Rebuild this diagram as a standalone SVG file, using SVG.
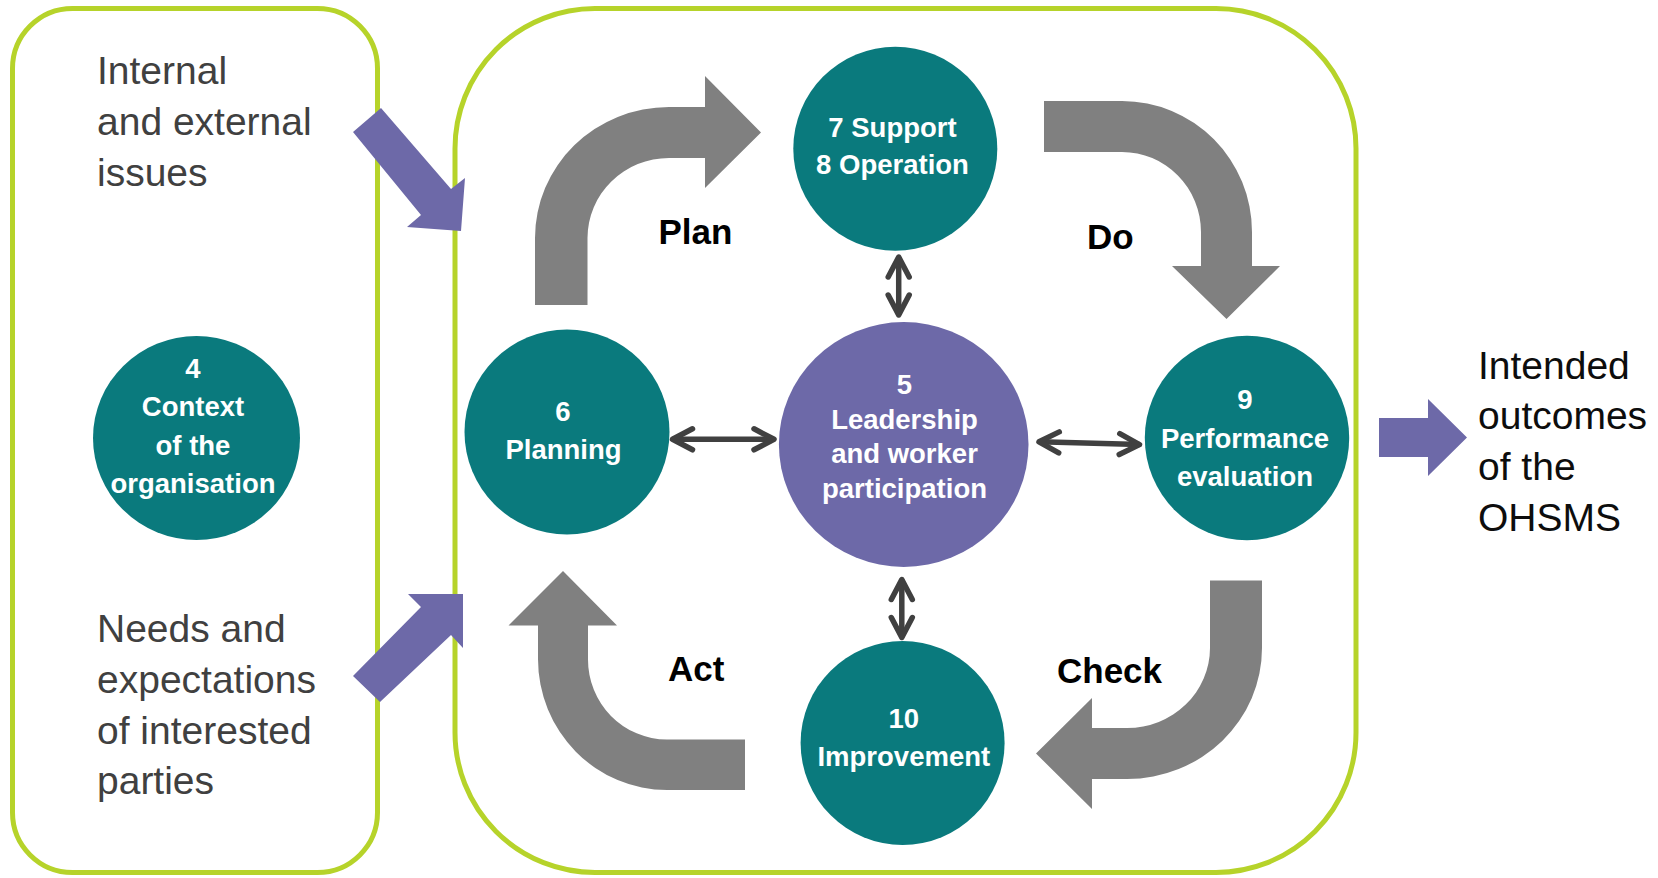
<svg xmlns="http://www.w3.org/2000/svg" width="1658" height="878" viewBox="0 0 1658 878">
  <style>
    .frame { fill: none; stroke: #b6d32a; stroke-width: 5; }
    .teal { fill: #0a7a7d; }
    .purple { fill: #6d69a8; }
    .cycle { fill: #808080; }
    .flow { fill: #6d69a8; }
    .dbl { fill: none; stroke: #404040; stroke-width: 5.5; stroke-linecap: butt; }
    .ntext { font-family: "Liberation Sans", Arial, sans-serif; font-weight: bold; font-size: 27.5px; fill: #ffffff; text-anchor: middle; }
    .side { font-family: "Liberation Sans", Arial, sans-serif; font-size: 39px; fill: #404040; }
    .out { font-family: "Liberation Sans", Arial, sans-serif; font-size: 39px; fill: #0d0d0d; }
    .lbl { font-family: "Liberation Sans", Arial, sans-serif; font-weight: bold; font-size: 35px; fill: #000000; }
  </style>
  <defs>
    <marker id="chev" viewBox="-30 -16 36 32" refX="0" refY="0" markerWidth="36" markerHeight="32" markerUnits="userSpaceOnUse" orient="auto-start-reverse">
      <path d="M -20 -10.5 L 0 0 L -20 10.5" fill="none" stroke="#404040" stroke-width="5.5" stroke-linecap="round" stroke-linejoin="round"/>
    </marker>
  </defs>
  <rect width="1658" height="878" fill="#ffffff"/>

  <g id="frames">
    <rect id="frame-context" class="frame" x="12.5" y="8.5" width="365" height="864" rx="60" ry="60"/>
    <rect id="frame-ohsms" class="frame" x="455" y="8.5" width="901" height="864" rx="140" ry="140"/>
  </g>

  <g id="connectors">
    <polygon id="arrow-issues" class="flow" points="381,108 451,189 465,178 461,231 407,227 421,215 353,132"/>
    <polygon id="arrow-needs" class="flow" points="353,676 421,607 408,594 463,594 463,648 451,635 380,702"/>
    <polygon id="arrow-outcomes" class="flow" points="1379,418 1428,418 1428,399 1467,437.5 1428,476 1428,457 1379,457"/>

    <path id="arrow-plan" class="cycle" d="M 535 305 L 535 238 A 134 131 0 0 1 669 107 L 705 107 L 705 76 L 761 132.5 L 705 188 L 705 158 L 669 158 A 81.5 80 0 0 0 587.5 238 L 587.5 305 Z"/>
    <path id="arrow-do" class="cycle" d="M 1044 101 L 1122 101 A 130 131 0 0 1 1252 232 L 1252 266 L 1280 266 L 1226.5 319 L 1172 266 L 1201 266 L 1201 232 A 79 80 0 0 0 1122 152 L 1044 152 Z"/>
    <path id="arrow-check" class="cycle" d="M 1210 580.5 L 1262 580.5 L 1262 648 A 135 131 0 0 1 1127 779 L 1092 779 L 1092 809 L 1036 753.5 L 1092 698 L 1092 728 L 1127 728 A 83 80 0 0 0 1210 648 Z"/>
    <path id="arrow-act" class="cycle" d="M 745 739.5 L 667 739.5 A 79 80 0 0 1 588 659 L 588 625.5 L 617 625.5 L 563 571 L 508.5 625.5 L 538 625.5 L 538 659 A 129 131 0 0 0 667 790 L 745 790 Z"/>

    <line id="link-support-leadership" class="dbl" x1="898.7" y1="257" x2="898.7" y2="315" marker-start="url(#chev)" marker-end="url(#chev)"/>
    <line id="link-leadership-improvement" class="dbl" x1="901.8" y1="579.5" x2="901.8" y2="637.5" marker-start="url(#chev)" marker-end="url(#chev)"/>
    <line id="link-planning-leadership" class="dbl" x1="672.5" y1="439.3" x2="774" y2="439.3" marker-start="url(#chev)" marker-end="url(#chev)"/>
    <line id="link-leadership-performance" class="dbl" x1="1039" y1="441.8" x2="1139.5" y2="444.6" marker-start="url(#chev)" marker-end="url(#chev)"/>

    <text class="lbl" x="658.5" y="244">Plan</text>
    <text class="lbl" x="1087" y="249">Do</text>
    <text class="lbl" x="1057" y="682.5">Check</text>
    <text class="lbl" x="668" y="681">Act</text>
  </g>

  <g id="node-issues">
    <text class="side" x="97" y="83.5">Internal</text>
    <text class="side" x="97" y="135">and external</text>
    <text class="side" x="97" y="185.5">issues</text>
  </g>

  <g id="node-needs">
    <text class="side" x="97" y="642">Needs and</text>
    <text class="side" x="97" y="692.5">expectations</text>
    <text class="side" x="97" y="743.5">of interested</text>
    <text class="side" x="97" y="794">parties</text>
  </g>

  <g id="node-outcomes">
    <text class="out" x="1478" y="378.5">Intended</text>
    <text class="out" x="1478" y="428.5">outcomes</text>
    <text class="out" x="1478" y="479.5">of the</text>
    <text class="out" x="1478" y="530.5">OHSMS</text>
  </g>

  <g id="node-context">
    <ellipse class="teal" cx="196.5" cy="438" rx="103.5" ry="102"/>
    <text class="ntext" x="193" y="377.5">4</text>
    <text class="ntext" x="193" y="416">Context</text>
    <text class="ntext" x="193" y="454.5">of the</text>
    <text class="ntext" x="193" y="492.5">organisation</text>
  </g>

  <g id="node-planning">
    <circle class="teal" cx="567" cy="432" r="102.5"/>
    <text class="ntext" x="563" y="420.5">6</text>
    <text class="ntext" x="563.5" y="458.5">Planning</text>
  </g>

  <g id="node-support">
    <circle class="teal" cx="895.3" cy="148.7" r="102"/>
    <text class="ntext" x="892.5" y="136.7">7 Support</text>
    <text class="ntext" x="892.5" y="174">8 Operation</text>
  </g>

  <g id="node-leadership">
    <ellipse class="purple" cx="903.7" cy="444.5" rx="124.8" ry="122.4"/>
    <text class="ntext" x="904.5" y="394">5</text>
    <text class="ntext" x="904.5" y="429">Leadership</text>
    <text class="ntext" x="904.5" y="463.3">and worker</text>
    <text class="ntext" x="904.5" y="498">participation</text>
  </g>

  <g id="node-performance">
    <circle class="teal" cx="1247" cy="438" r="102.2"/>
    <text class="ntext" x="1245" y="409">9</text>
    <text class="ntext" x="1245" y="447.5">Performance</text>
    <text class="ntext" x="1245" y="486.4">evaluation</text>
  </g>

  <g id="node-improvement">
    <circle class="teal" cx="902.6" cy="743" r="102"/>
    <text class="ntext" x="903.8" y="727.6">10</text>
    <text class="ntext" x="903.8" y="766.3">Improvement</text>
  </g>
</svg>
